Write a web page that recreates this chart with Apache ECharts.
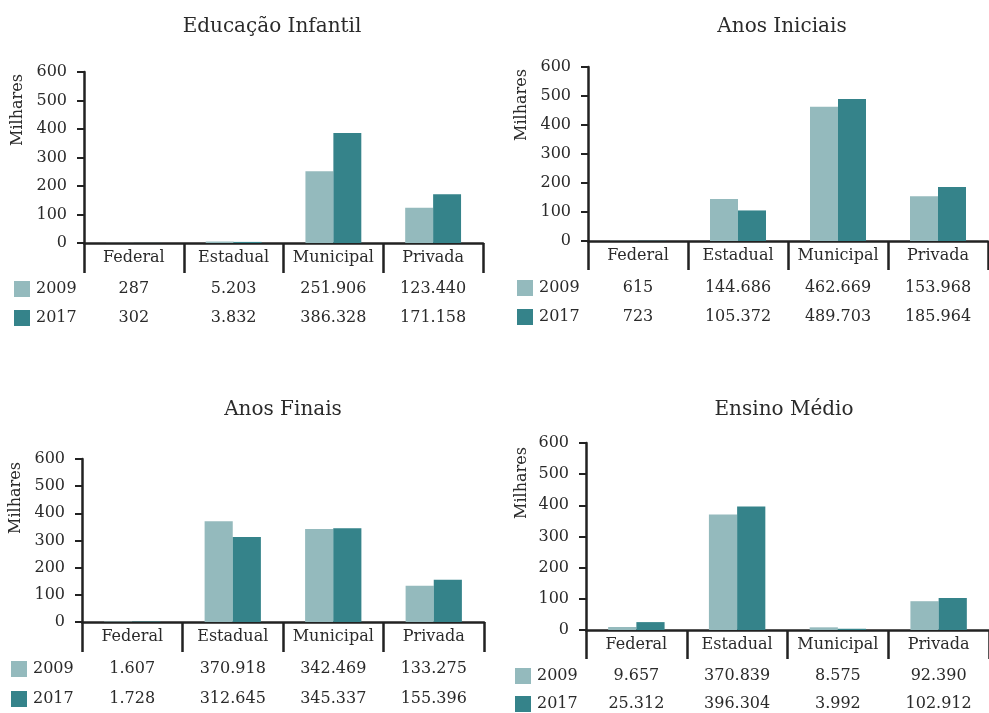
<!DOCTYPE html>
<html><head><meta charset="utf-8">
<script src="https://cdn.jsdelivr.net/npm/echarts@6/dist/echarts.min.js"></script>
<style>html,body{margin:0;padding:0;background:#fff}#c{width:989px;height:713px}</style>
</head><body><div id="c"></div>
<script>
const categories = ['Federal', 'Estadual', 'Municipal', 'Privada'];
const seriesNames = ['2009', '2017'];
const panelTitles = ['Educação Infantil', 'Anos Iniciais', 'Anos Finais', 'Ensino Médio'];
const yAxisName = 'Milhares';
const yTicks = [0, 100, 200, 300, 400, 500, 600];
const infantil2009 = [287, 5203, 251906, 123440];
const infantil2017 = [302, 3832, 386328, 171158];
const iniciais2009 = [615, 144686, 462669, 153968];
const iniciais2017 = [723, 105372, 489703, 185964];
const finais2009 = [1607, 370918, 342469, 133275];
const finais2017 = [1728, 312645, 345337, 155396];
const medio2009 = [9657, 370839, 8575, 92390];
const medio2017 = [25312, 396304, 3992, 102912];

const panelData = [
  [infantil2009, infantil2017],
  [iniciais2009, iniciais2017],
  [finais2009, finais2017],
  [medio2009, medio2017]
];
const colors = ['#94BABD', '#35838A'];
const FONT = 'DejaVu Serif';
const TXT = '#2a2a2a';
const AX = '#222';

const layout = [
  {left: 84, width: 399, top: 72, height: 171, tick: 30, title: [272, 27], name: [18, 110], rows: [289, 318], sq: 14, lx: 36},
  {left: 588, width: 400, top: 67, height: 174, tick: 29, title: [782, 27], name: [522, 105], rows: [288, 317], sq: 517, lx: 539},
  {left: 82, width: 402, top: 459, height: 163, tick: 30, title: [283, 410], name: [16, 498], rows: [669, 699], sq: 11, lx: 33},
  {left: 586, width: 411, top: 443, height: 187, tick: 29, title: [784, 410], name: [522, 483], rows: [676, 704], sq: 515, lx: 537}
];

function fmt(n) { return String(n).replace(/\B(?=(\d{3})+(?!\d))/g, '.'); }

const grids = [], xAxes = [], yAxes = [], series = [];
layout.forEach((L, i) => {
  grids.push({left: L.left, top: L.top, width: L.width, height: L.height, containLabel: false});
  xAxes.push({
    type: 'category', gridIndex: i, data: categories,
    axisLine: {show: true, lineStyle: {color: AX, width: 2.5}},
    axisTick: {show: true, interval: 0, alignWithLabel: false, length: L.tick, lineStyle: {color: AX, width: 2.5}},
    axisLabel: {show: true, interval: 0, margin: 7, fontSize: 16, fontFamily: FONT, color: TXT},
    splitLine: {show: false}
  });
  yAxes.push({
    type: 'value', gridIndex: i, min: yTicks[0], max: yTicks[yTicks.length - 1], interval: yTicks[1] - yTicks[0],
    axisLine: {show: true, lineStyle: {color: AX, width: 2.5}},
    axisTick: {show: true, length: 7, lineStyle: {color: AX, width: 2}},
    axisLabel: {margin: 17, fontSize: 16, fontFamily: FONT, color: TXT},
    splitLine: {show: false}
  });
  panelData[i].forEach((arr, s) => {
    series.push({
      type: 'bar', name: seriesNames[s], xAxisIndex: i, yAxisIndex: i,
      data: arr.map(v => v / 1000),
      barGap: '0%', barCategoryGap: '44%',
      itemStyle: {color: colors[s]},
      silent: true
    });
  });
});

const chart = echarts.init(document.getElementById('c'), null, {renderer: 'canvas'});
chart.setOption({
  animation: false,
  backgroundColor: '#fff',
  grid: grids, xAxis: xAxes, yAxis: yAxes, series: series
});

const graphic = [];
layout.forEach((L, i) => {
  graphic.push({type: 'text', x: L.title[0], y: L.title[1], style: {text: panelTitles[i], font: '20px "' + FONT + '"', fill: TXT, align: 'center', verticalAlign: 'middle'}});
  graphic.push({type: 'text', x: L.name[0], y: L.name[1], rotation: Math.PI / 2, style: {text: yAxisName, font: '16px "' + FONT + '"', fill: TXT, align: 'center', verticalAlign: 'middle'}});
  seriesNames.forEach((sn, s) => {
    const ry = L.rows[s];
    graphic.push({type: 'rect', shape: {x: L.sq, y: ry - 8, width: 16, height: 16}, style: {fill: colors[s]}});
    graphic.push({type: 'text', x: L.lx, y: ry, style: {text: sn, font: '16px "' + FONT + '"', fill: TXT, align: 'left', verticalAlign: 'middle'}});
    panelData[i][s].forEach((v, c) => {
      const px = chart.convertToPixel({xAxisIndex: i}, c);
      graphic.push({type: 'text', x: px, y: ry, style: {text: fmt(v), font: '16px "' + FONT + '"', fill: TXT, align: 'center', verticalAlign: 'middle'}});
    });
  });
});
chart.setOption({graphic: graphic});
</script>
</body></html>
